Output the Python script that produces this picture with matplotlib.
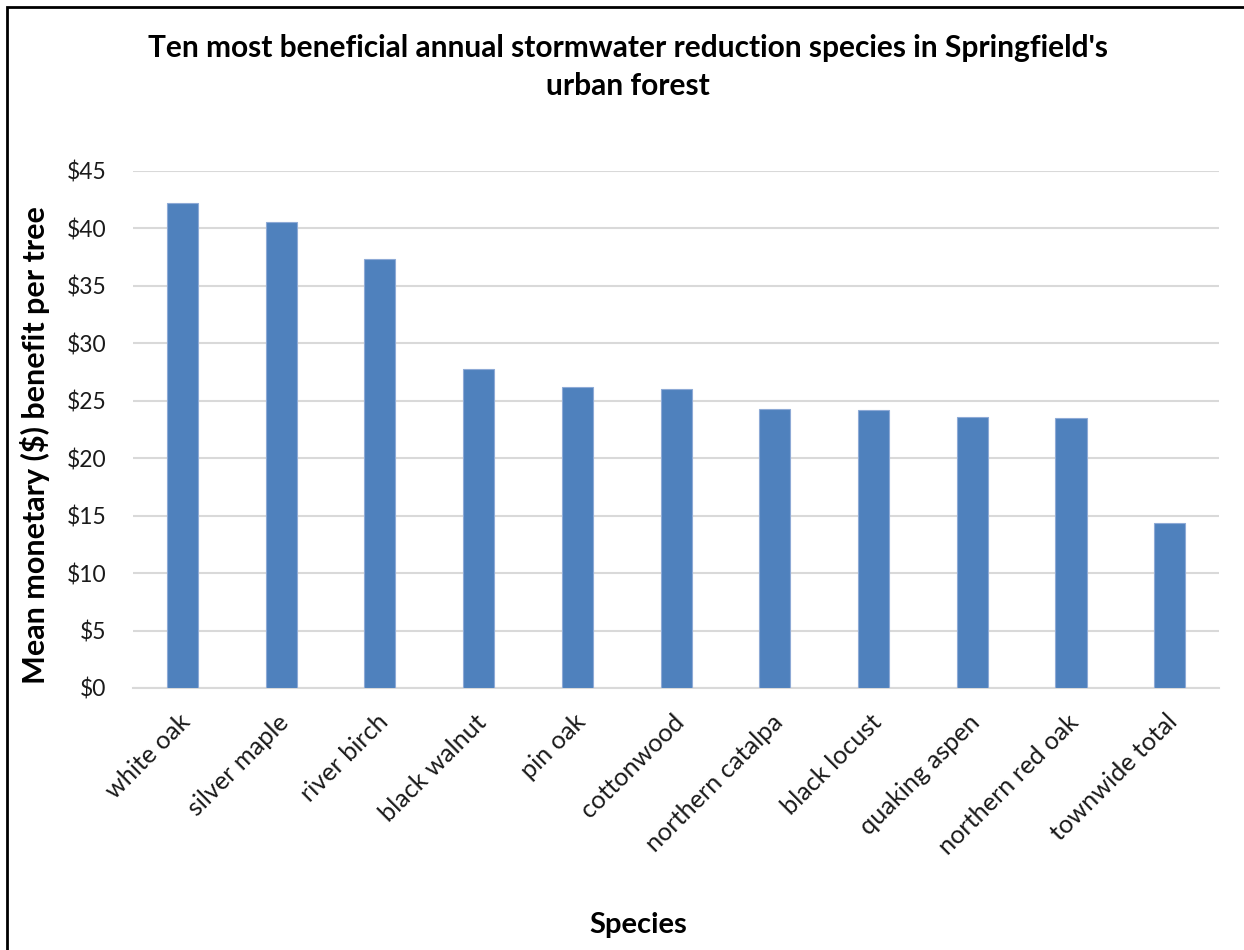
import matplotlib.pyplot as plt
import matplotlib.transforms as mtransforms
from matplotlib.ticker import FuncFormatter
from matplotlib.patches import Rectangle

species = ["white oak", "silver maple", "river birch", "black walnut", "pin oak",
           "cottonwood", "northern catalpa", "black locust", "quaking aspen",
           "northern red oak", "townwide total"]
benefit = [42.2, 40.6, 37.3, 27.8, 26.2, 26.0, 24.3, 24.2, 23.6, 23.5, 14.4]

TITLE = "Ten most beneficial annual stormwater reduction species in Springfield's\nurban forest"
BAR_COLOR = "#4f81bd"
GRID_COLOR = "#d9d9d9"
TEXT_COLOR = "#1a1a1a"

plt.rcParams["font.family"] = ["Lato", "DejaVu Sans"]

fig = plt.figure(figsize=(12.44, 9.5), dpi=100)
ax = fig.add_axes([0.1069, 0.2758, 0.98 - 0.1069, 0.82 - 0.2758])

x = range(len(species))
ax.bar(x, benefit, width=0.315, color=BAR_COLOR, edgecolor="#8eaad6", linewidth=0.8, zorder=3)

ax.set_xlim(-0.5, len(species) - 0.5)
ax.set_ylim(0, 45)
ax.set_yticks(range(0, 50, 5))
ax.yaxis.set_major_formatter(FuncFormatter(lambda v, p: f"${int(v)}"))
ax.grid(axis="y", color=GRID_COLOR, linewidth=1.5, zorder=0)

for s in ["top", "right", "left"]:
    ax.spines[s].set_visible(False)
ax.spines["bottom"].set_color(GRID_COLOR)
ax.spines["bottom"].set_linewidth(1.5)
ax.tick_params(axis="y", length=0, labelsize=16.5, colors=TEXT_COLOR, pad=19)
ax.tick_params(axis="x", length=0, labelsize=18.2, colors=TEXT_COLOR, pad=16)

ax.set_xticks(list(x))
ax.set_xticklabels(species, rotation=45, ha="right", rotation_mode="anchor")
shift = mtransforms.ScaledTranslation(-4 / 100, 0, fig.dpi_scale_trans)
for lbl in ax.get_xticklabels():
    lbl.set_transform(lbl.get_transform() + shift)

fig.text(35 / 1244, 1 - 445 / 950, "Mean monetary ($) benefit per tree", rotation=90,
         ha="center", va="center", fontsize=22, fontweight="bold", color="black")
fig.text(0.513, 1 - 925 / 950, "Species", ha="center", va="center", fontsize=21,
         fontweight="bold", color="black")
fig.text(0.505, 1 - 48 / 950, TITLE.split("\n")[0], ha="center", va="center",
         fontsize=21.5, fontweight="bold", color="black")
fig.text(0.505, 1 - 86 / 950, TITLE.split("\n")[1], ha="center", va="center",
         fontsize=21.5, fontweight="bold", color="black")

# chart area border (left and top visible)
fig.add_artist(Rectangle((7 / 1244, -0.1), 1.2, 1.1 - 7 / 950, transform=fig.transFigure,
                         fill=False, edgecolor="black", linewidth=2))

fig.savefig("out.png", dpi=100)
